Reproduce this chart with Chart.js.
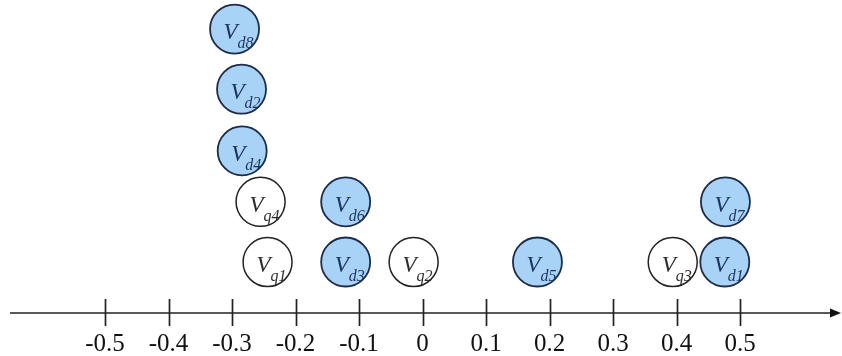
<!DOCTYPE html>
<html>
<head>
<meta charset="utf-8">
<script src="https://cdn.jsdelivr.net/npm/chart.js@4.4.0/dist/chart.umd.min.js"></script>
<style>
    html, body { margin: 0; padding: 0; background: #fff; }
    #wrap { width: 842px; height: 356px; }
</style>
</head>
<body>
<div id="wrap"><canvas id="lineChart"></canvas></div>
<script>
// number line ticks
const tickValues = [-0.5, -0.4, -0.3, -0.2, -0.1, 0, 0.1, 0.2, 0.3, 0.4, 0.5];

// d nodes (blue) - position on the line and stack level above it
const dLabels = ["d8", "d2", "d4", "d6", "d3", "d5", "d7", "d1"];
const dX = [-0.296, -0.285, -0.284, -0.121, -0.121, 0.181, 0.477, 0.476];
const dY = [5.57, 4.39, 3.18, 2.18, 1, 1, 2.18, 1];

// q nodes (white)
const qLabels = ["q4", "q1", "q2", "q3"];
const qX = [-0.255, -0.244, -0.014, 0.394];
const qY = [2.18, 1, 1, 1];

function toPoints(xs, ys) {
    return xs.map((v, i) => ({ x: v, y: ys[i] }));
}

// draws the axis line, arrow, tick marks and the node names
const numberLine = {
    id: 'numberLine',
    beforeDatasetsDraw(chart) {
        const { ctx, chartArea, scales: { x, y } } = chart;
        const y0 = y.getPixelForValue(0);
        ctx.save();
        ctx.strokeStyle = '#222';
        ctx.lineWidth = 1.7;
        ctx.beginPath();
        ctx.moveTo(chartArea.left, y0);
        ctx.lineTo(chartArea.right - 8, y0);
        tickValues.forEach(v => {
            const px = Math.round(x.getPixelForValue(v)) + 0.5;
            ctx.moveTo(px, y0 - 14);
            ctx.lineTo(px, y0 + 13);
        });
        ctx.stroke();
        ctx.fillStyle = '#111';
        ctx.beginPath();
        ctx.moveTo(chartArea.right, y0);
        ctx.lineTo(chartArea.right - 11, y0 - 4.5);
        ctx.lineTo(chartArea.right - 11, y0 + 4.5);
        ctx.closePath();
        ctx.fill();
        ctx.restore();
    },
    afterDatasetsDraw(chart) {
        const { ctx } = chart;
        const groups = [[dLabels, '#1c355a'], [qLabels, '#2e2e2e']];
        ctx.save();
        ctx.textAlign = 'left';
        ctx.textBaseline = 'alphabetic';
        groups.forEach(([names, color], di) => {
            chart.getDatasetMeta(di).data.forEach((pt, i) => {
                ctx.fillStyle = color;
                ctx.font = 'italic 23px "Liberation Serif"';
                ctx.fillText('V', pt.x - 11, pt.y + 10);
                ctx.font = 'italic 16px "Liberation Serif"';
                ctx.fillText(names[i], pt.x + 3, pt.y + 19);
            });
        });
        ctx.restore();
    }
};

const ctx = document.getElementById('lineChart').getContext('2d');

new Chart(ctx, {
    type: 'scatter',
    data: {
        datasets: [{
            label: 'd',
            data: toPoints(dX, dY),
            pointRadius: 24.5,
            pointHoverRadius: 24.5,
            backgroundColor: '#a9d2f7',
            borderColor: '#1d2d48',
            borderWidth: 1.8
        }, {
            label: 'q',
            data: toPoints(qX, qY),
            pointRadius: 24.5,
            pointHoverRadius: 24.5,
            backgroundColor: '#ffffff',
            borderColor: '#222',
            borderWidth: 1.5
        }]
    },
    options: {
        responsive: true,
        maintainAspectRatio: false,
        animation: false,
        clip: false,
        layout: { autoPadding: false, padding: { left: 10, right: 1, top: 0, bottom: -19 } },
        plugins: {
            legend: { display: false },
            tooltip: { enabled: false }
        },
        scales: {
            x: {
                type: 'linear',
                min: -0.6496,
                max: 0.659,
                afterBuildTicks: scale => {
                    scale.ticks = tickValues.map(v => ({ value: v }));
                },
                grid: { display: false, drawTicks: false },
                border: { display: false },
                ticks: {
                    padding: 16,
                    color: '#111',
                    font: { family: '"Liberation Serif"', size: 25 },
                    callback: v => String(Number(v.toFixed(1)))
                }
            },
            y: {
                display: false,
                min: 0,
                max: 6.14
            }
        }
    },
    plugins: [numberLine]
});
</script>
</body>
</html>
